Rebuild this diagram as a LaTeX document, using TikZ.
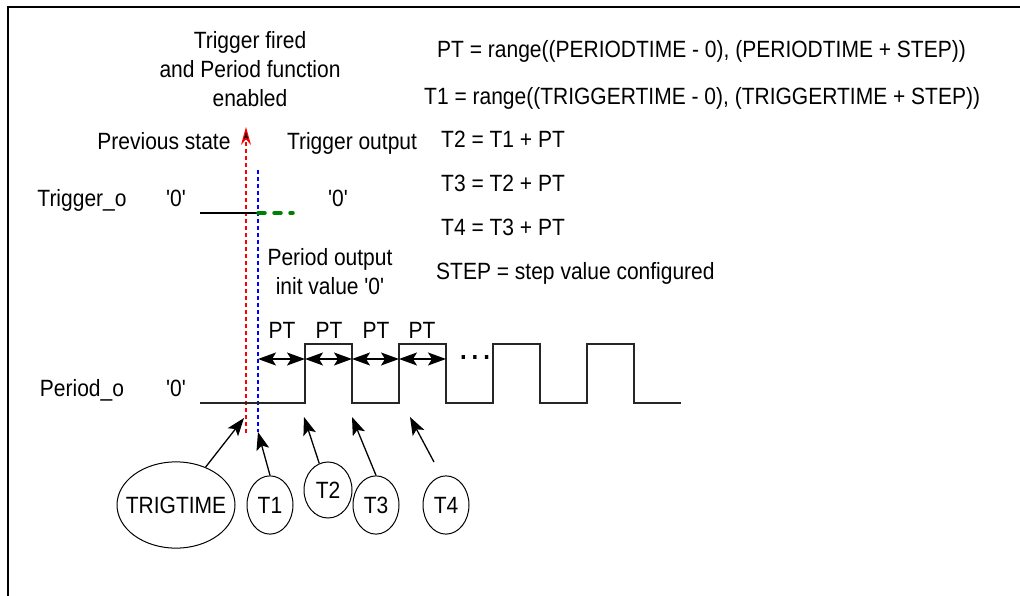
\documentclass[tikz,border=0pt]{standalone}
\usepackage{fontspec}
\setmainfont{Liberation Sans}
\usetikzlibrary{arrows.meta,shapes.geometric}
\newcommand{\qzero}{\textquotesingle 0\textquotesingle}

\begin{document}
\begin{tikzpicture}[x=1pt, y=-1pt,
    every node/.style={font=\fontsize{21}{26}\selectfont, inner sep=0pt, yscale=1.12},
    lbl/.style={anchor=base},
    eqn/.style={anchor=base west},
    tnode/.style={ellipse, draw, line width=1pt, minimum width=46pt, minimum height=52pt},
    pointer/.style={-{Stealth[length=18pt, width=13pt, inset=4pt]}, line width=1.3pt},
    span/.style={{Stealth[length=18pt, width=13pt, inset=4pt]}-{Stealth[length=18pt, width=13pt, inset=4pt]}, line width=1.3pt},
    wave/.style={line width=1.5pt, black!85},
    marker/.style={line width=1.2pt, dash pattern=on 4pt off 3pt}
    ]
    \useasboundingbox (0,0) rectangle (1020,596);
    \draw[line width=2pt] (8,596) -- (8,7) -- (1020,7);

    % texts
    \node[align=center] (fired) at (250,69) {Trigger fired\\and Period function\\enabled};
    \node[lbl] (prev) at (164,150) {Previous state};
    \node[lbl] (trigout) at (352,150) {Trigger output};
    \node[lbl] (trigo) at (82,207) {Trigger\_o};
    \node[lbl] (trigzero) at (176,207) {\qzero};
    \node[lbl] (trignew) at (338,207) {\qzero};
    \node[align=center] (perout) at (330,272) {Period output\\init value \qzero};
    \node[lbl] (pero) at (82,396) {Period\_o};
    \node[lbl] (perzero) at (176,396) {\qzero};

    \node[eqn] (eqpt) at (437,58) {PT = range((PERIODTIME - 0), (PERIODTIME + STEP))};
    \node[eqn] (eqtone) at (424,105) {T1 = range((TRIGGERTIME - 0), (TRIGGERTIME + STEP))};
    \node[eqn] (eqttwo) at (441,148) {T2 = T1 + PT};
    \node[eqn] (eqtthree) at (441,192) {T3 = T2 + PT};
    \node[eqn] (eqtfour) at (441,236) {T4 = T3 + PT};
    \node[eqn] (eqstep) at (436,279) {STEP = step value configured};

    % trigger and period markers
    \coordinate (redtop) at (246,127);
    \coordinate (redbot) at (246,433);
    \coordinate (bluetop) at (258,170);
    \coordinate (bluebot) at (258,432);
    \draw[marker, red, -{Stealth[length=18pt, width=10pt, fill=black]}] (redbot) -- (redtop);
    \draw[marker, blue] (bluetop) -- (bluebot);

    % Trigger_o
    \coordinate (trigstart) at (200,213);
    \coordinate (trigedge) at (258,213);
    \coordinate (trigend) at (293,213);
    \draw[line width=1.2pt] (trigstart) -- (trigedge);
    \draw[green!50!black, line width=3.5pt, line cap=round, dash pattern=on 7pt off 9pt] (trigedge) -- (trigend);

    % Period_o
    \draw[wave] (200,403) -- (305,403) -- (305,344) -- (352,344) -- (352,403)
        -- (399,403) -- (399,344) -- (446,344) -- (446,403)
        -- (493,403) -- (493,344) -- (540,344) -- (540,403)
        -- (587,403) -- (587,344) -- (634,344) -- (634,403) -- (681,403);
    \coordinate (e0) at (258,359);
    \coordinate (e1) at (305,359);
    \coordinate (e2) at (352,359);
    \coordinate (e3) at (399,359);
    \coordinate (e4) at (446,359);
    \foreach \a/\b in {e0/e1, e1/e2, e2/e3, e3/e4}
        \draw[span] (\a) -- (\b);
    \foreach \x [count=\i] in {282,329,376,422}
        \node[lbl] (pt\i) at (\x,338) {PT};
    \node[lbl, font=\fontsize{24}{26}\selectfont\bfseries] (dots) at (475,359) {.\hspace{5pt}.\hspace{5pt}.};

    % time points
    \node[tnode, minimum width=118pt, minimum height=77pt, label=center:TRIGTIME] (trig) at (176,505) {};
    \node[tnode] (tone) at (270,505) {T1};
    \node[tnode, minimum width=48pt, minimum height=50pt] (ttwo) at (328,490) {T2};
    \node[tnode] (tthree) at (376,505) {T3};
    \node[tnode] (tfour) at (446,505) {T4};

    \coordinate (trigtip) at (244,418);
    \coordinate (tonetip) at (258,432);
    \coordinate (ttwotip) at (304,417);
    \coordinate (tthreetip) at (352,417);
    \coordinate (tfourtail) at (434,462);
    \coordinate (tfourtip) at (410,417);
    \draw[pointer] (trig) -- (trigtip);
    \draw[pointer] (tone.north) -- (tonetip);
    \draw[pointer] (ttwo) -- (ttwotip);
    \draw[pointer] (tthree.north) -- (tthreetip);
    \draw[pointer] (tfourtail) -- (tfourtip);
\end{tikzpicture}
\end{document}
